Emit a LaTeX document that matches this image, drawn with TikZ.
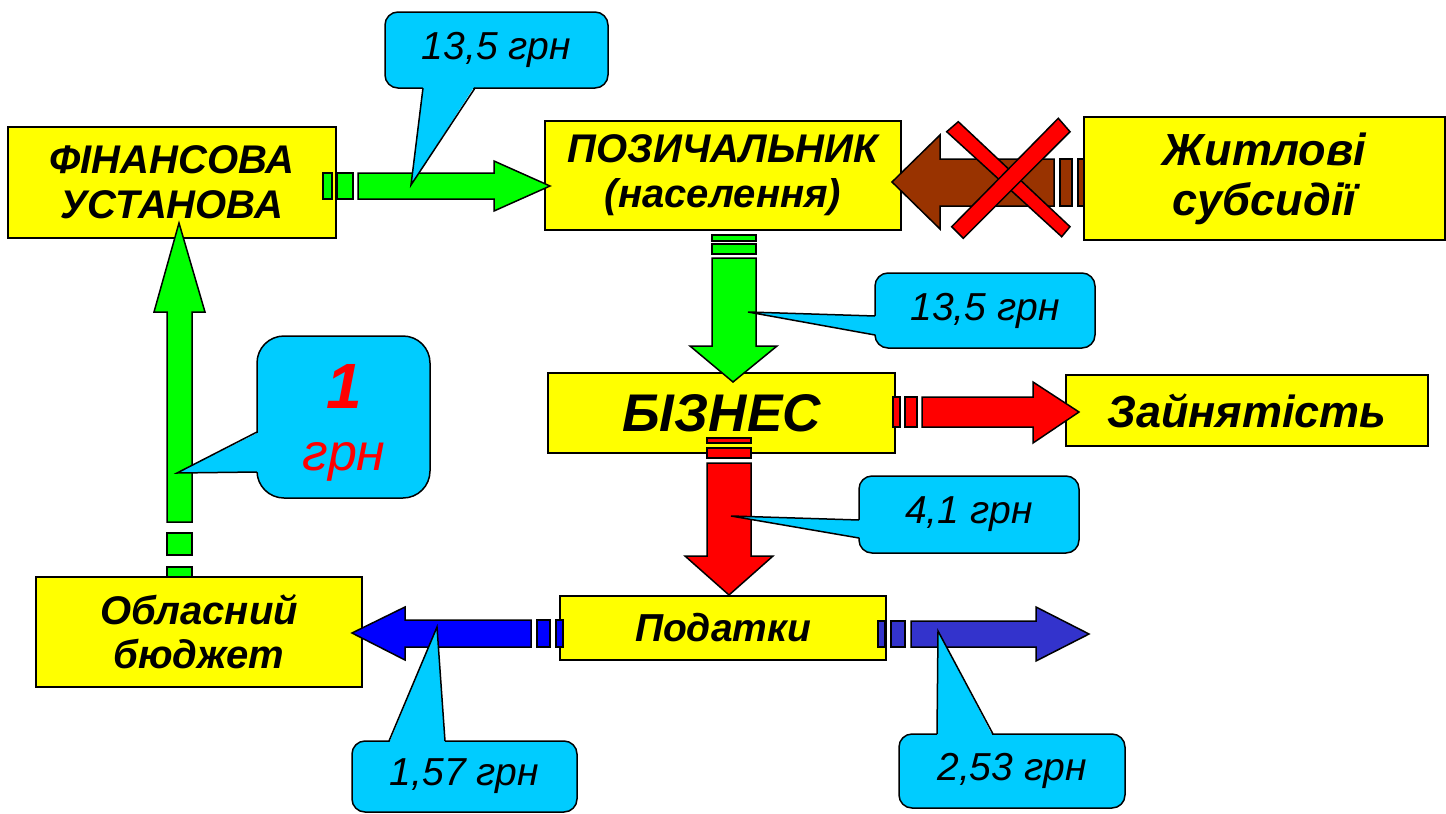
\documentclass[tikz,border=0pt]{standalone}
\usepackage{fontspec}
\setmainfont{Liberation Sans}
\definecolor{boxyellow}{HTML}{FFFF00}
\definecolor{arrgreen}{HTML}{00FF00}
\definecolor{arrbrown}{HTML}{993300}
\definecolor{arrred}{HTML}{FF0000}
\definecolor{arrblue}{HTML}{0000FF}
\definecolor{arrblueb}{HTML}{3333CC}
\definecolor{callcyan}{HTML}{00CCFF}
\begin{document}
\begin{tikzpicture}[x=1pt,y=-1pt,
  box/.style={draw=black,line width=2pt,fill=boxyellow,inner sep=0pt,align=center},
  blk/.style={draw=black,line width=1.5pt,line join=miter},
  callbox/.style={draw=black,line width=1.5pt,fill=callcyan,inner sep=0pt,align=center,
    font=\itshape\fontsize{39}{44}\selectfont},
  wedgeline/.style={draw=black,line width=1.5pt,line join=miter}
]
\useasboundingbox (0,0) rectangle (1446,814);
\fill[white] (0,0) rectangle (1446,814);

% ---------- boxes ----------
\node[box,minimum width=328pt,minimum height=111pt,
  font=\bfseries\itshape\fontsize{40}{45}\selectfont] (fin) at (172,182.5) {ФІНАНСОВА\\УСТАНОВА};
\node[box,minimum width=356pt,minimum height=109pt,
  font=\bfseries\itshape\fontsize{40}{45}\selectfont] (poz) at (723,175.5) {ПОЗИЧАЛЬНИК\\(населення)};
\node[box,minimum width=361pt,minimum height=123pt,
  font=\bfseries\itshape\fontsize{45}{50}\selectfont] (sub) at (1264.5,178.5) {Житлові\\субсидії};
\node[box,minimum width=347pt,minimum height=80pt,
  font=\bfseries\itshape\fontsize{53}{60}\selectfont] (biz) at (721.5,413) {БІЗНЕС};
\node[box,minimum width=362pt,minimum height=71pt,
  font=\bfseries\itshape\fontsize{45}{50}\selectfont] (zay) at (1247,410.5) {Зайнятість};
\node[box,minimum width=326pt,minimum height=64pt,
  font=\bfseries\itshape\fontsize{39}{44}\selectfont] (tax) at (723,628) {Податки};
\node[box,minimum width=326pt,minimum height=110pt,
  font=\bfseries\itshape\fontsize{40}{44}\selectfont] (obl) at (199,632) {Обласний\\бюджет};

% ---------- block arrows ----------
% financial institution -> borrower
\filldraw[blk,fill=arrgreen] (323,173) rectangle (332,199);
\filldraw[blk,fill=arrgreen] (337,173) rectangle (353,199);
\filldraw[blk,fill=arrgreen] (358,173) -- (494,173) -- (494,161) -- (550,186) -- (494,211) -- (494,199) -- (358,199) -- cycle;
% subsidies -> borrower (crossed out)
\filldraw[blk,fill=arrbrown] (1060,159) rectangle (1072,206);
\filldraw[blk,fill=arrbrown] (1078,159) rectangle (1084,206);
\filldraw[blk,fill=arrbrown] (1054,159) -- (940,159) -- (940,135) -- (892,182) -- (940,229) -- (940,206) -- (1054,206) -- cycle;
% borrower -> business
\filldraw[blk,fill=arrgreen] (712,235) rectangle (756,241);
\filldraw[blk,fill=arrgreen] (712,244) rectangle (756,254);
\filldraw[blk,fill=arrgreen] (712,258) -- (756,258) -- (756,346) -- (777,346) -- (733,382) -- (690,346) -- (712,346) -- cycle;
% business -> employment
\filldraw[blk,fill=arrred] (893,397) rectangle (900,427);
\filldraw[blk,fill=arrred] (905,397) rectangle (917,427);
\filldraw[blk,fill=arrred] (922,397) -- (1033,397) -- (1033,382) -- (1079,412) -- (1033,443) -- (1033,427) -- (922,427) -- cycle;
% business -> taxes
\filldraw[blk,fill=arrred] (707,438) rectangle (751,443);
\filldraw[blk,fill=arrred] (707,448) rectangle (751,458);
\filldraw[blk,fill=arrred] (707,463) -- (751,463) -- (751,556) -- (773,556) -- (729,595) -- (685,556) -- (707,556) -- cycle;
% taxes -> regional budget
\filldraw[blk,fill=arrblue] (556,620) rectangle (563,647);
\filldraw[blk,fill=arrblue] (537,620) rectangle (550,647);
\filldraw[blk,fill=arrblue] (531,620) -- (405,620) -- (405,607) -- (352,633) -- (405,660) -- (405,647) -- (531,647) -- cycle;
% taxes -> out
\filldraw[blk,fill=arrblueb] (878,621) rectangle (885,647);
\filldraw[blk,fill=arrblueb] (891,621) rectangle (905,647);
\filldraw[blk,fill=arrblueb] (911,621) -- (1036,621) -- (1036,607) -- (1089,634) -- (1036,661) -- (1036,647) -- (911,647) -- cycle;
% regional budget -> financial institution
\filldraw[blk,fill=arrgreen] (167,567) rectangle (192,577);
\filldraw[blk,fill=arrgreen] (167,533) rectangle (192,555);
\filldraw[blk,fill=arrgreen] (167,522) -- (167,312) -- (154,312) -- (179,223) -- (205,312) -- (192,312) -- (192,522) -- cycle;

% ---------- red cross ----------
\filldraw[blk,fill=arrred] (946.7,131.7) -- (958.3,121.7) -- (1070,226.7) -- (1061.7,236.7) -- cycle;
\filldraw[blk,fill=arrred] (1058.3,118.3) -- (1070,131.7) -- (963.3,238.3) -- (951.7,226.7) -- cycle;

% ---------- callouts ----------
\node[callbox,minimum width=223pt,minimum height=76pt,rounded corners=13pt] (c1) at (496.5,50) {13,5 грн};
\coordinate (t1) at (411,185);
\fill[callcyan] (423,85.5) -- (t1) -- (475,85.5) -- cycle;
\draw[wedgeline] (423,88) -- (t1) -- (475,88);

\node[callbox,minimum width=220pt,minimum height=75pt,rounded corners=13pt] (c2) at (985,310.5) {13,5 грн};
\coordinate (t2) at (748,312);
\fill[callcyan] (877.5,316) -- (t2) -- (877.5,335) -- cycle;
\draw[wedgeline] (875,316) -- (t2) -- (875,335);

\node[callbox,minimum width=173pt,minimum height=162pt,rounded corners=27pt] (c3) at (343.5,417) {};
\coordinate (t3) at (177,473);
\fill[callcyan] (259.5,432) -- (t3) -- (259.5,472) -- cycle;
\draw[wedgeline] (257,432) -- (t3) -- (257,472);
\node[text=arrred,align=center,inner sep=0pt,font=\itshape\fontsize{52}{62}\selectfont] (c3t) at (344,423)
  {{\bfseries\fontsize{64}{62}\selectfont 1}\\грн};

\node[callbox,minimum width=220pt,minimum height=77pt,rounded corners=13pt] (c4) at (969,514.5) {4,1 грн};
\coordinate (t4) at (731,516);
\fill[callcyan] (861.5,520) -- (t4) -- (861.5,538) -- cycle;
\draw[wedgeline] (859,520) -- (t4) -- (859,538);

\node[callbox,minimum width=225pt,minimum height=71pt,rounded corners=13pt] (c5) at (464.5,776.5) {1,57 грн};
\coordinate (t5) at (437,627);
\fill[callcyan] (389,743.5) -- (t5) -- (445,743.5) -- cycle;
\draw[wedgeline] (389,741) -- (t5) -- (445,741);

\node[callbox,minimum width=226pt,minimum height=74pt,rounded corners=13pt] (c6) at (1012,771) {2,53 грн};
\coordinate (t6) at (938,631);
\fill[callcyan] (937,736.5) -- (t6) -- (993,736.5) -- cycle;
\draw[wedgeline] (937,734) -- (t6) -- (993,734);
\end{tikzpicture}
\end{document}
